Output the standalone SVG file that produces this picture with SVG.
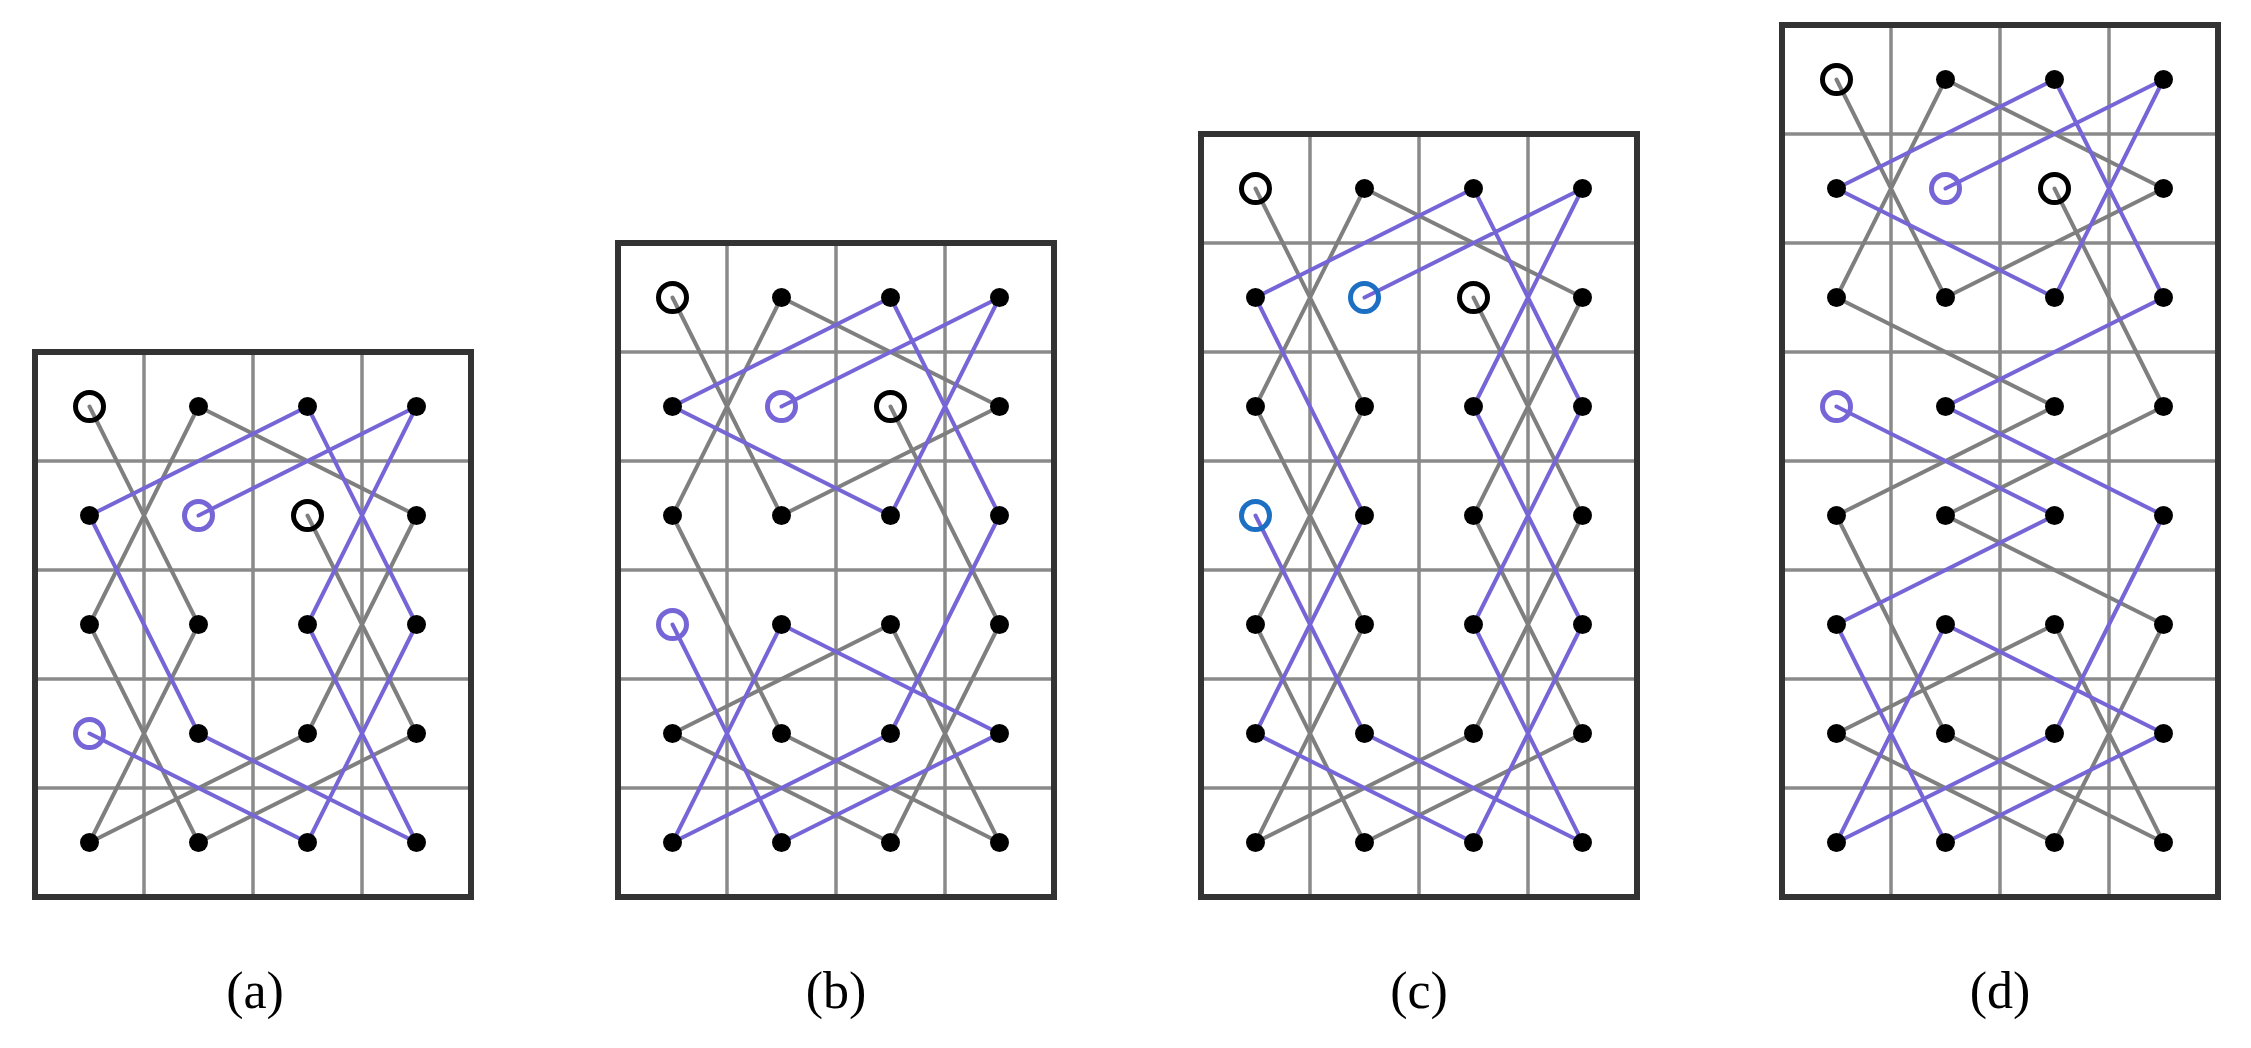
<svg xmlns="http://www.w3.org/2000/svg" width="2251" height="1048" viewBox="0 0 2251 1048">
<style>
.grid{fill:none;stroke:#8a8a8a;stroke-width:3.5}
.frame{fill:none;stroke:#333;stroke-width:6}
.g{fill:none;stroke:#7f7f7f;stroke-width:4;stroke-linecap:round}
.p{fill:none;stroke:#7565d6;stroke-width:4;stroke-linecap:round}
.d{fill:#000}
.mk{fill:none;stroke:#000;stroke-width:5}
.mp{fill:none;stroke:#7565d6;stroke-width:5}
.mb{fill:none;stroke:#1c6fc2;stroke-width:5}
.lbl{font-family:"Liberation Serif",serif;font-size:52px;text-anchor:middle;fill:#000}
</style>
<rect width="2251" height="1048" fill="#fff"/>
<g id="panel-a" transform="translate(35,352)">
<path class="grid" d="M109 0V545M218 0V545M327 0V545M0 109H436M0 218H436M0 327H436M0 436H436"/>
<rect class="frame" x="0" y="0" width="436" height="545"/>
<g class="connectors">
<path class="g" d="M54.5 54.5L163.5 272.5M163.5 54.5L54.5 272.5M163.5 54.5L381.5 163.5M54.5 272.5L163.5 490.5M163.5 272.5L54.5 490.5M54.5 490.5L272.5 381.5M163.5 490.5L381.5 381.5M272.5 163.5L381.5 381.5M381.5 163.5L272.5 381.5"/>
<path class="p" d="M272.5 54.5L54.5 163.5M381.5 54.5L163.5 163.5M272.5 54.5L381.5 272.5M381.5 54.5L272.5 272.5M54.5 163.5L163.5 381.5M272.5 272.5L381.5 490.5M381.5 272.5L272.5 490.5M163.5 381.5L381.5 490.5M54.5 381.5L272.5 490.5"/>
</g>
<g class="d">
<circle cx="163.5" cy="54.5" r="9.5"/><circle cx="272.5" cy="54.5" r="9.5"/><circle cx="381.5" cy="54.5" r="9.5"/>
<circle cx="54.5" cy="163.5" r="9.5"/><circle cx="381.5" cy="163.5" r="9.5"/>
<circle cx="54.5" cy="272.5" r="9.5"/><circle cx="163.5" cy="272.5" r="9.5"/><circle cx="272.5" cy="272.5" r="9.5"/><circle cx="381.5" cy="272.5" r="9.5"/>
<circle cx="163.5" cy="381.5" r="9.5"/><circle cx="272.5" cy="381.5" r="9.5"/><circle cx="381.5" cy="381.5" r="9.5"/>
<circle cx="54.5" cy="490.5" r="9.5"/><circle cx="163.5" cy="490.5" r="9.5"/><circle cx="272.5" cy="490.5" r="9.5"/><circle cx="381.5" cy="490.5" r="9.5"/>
</g>
<circle class="mk" cx="54.5" cy="54.5" r="14"/><circle class="mk" cx="272.5" cy="163.5" r="14"/>
<circle class="mp" cx="163.5" cy="163.5" r="14"/><circle class="mp" cx="54.5" cy="381.5" r="14"/>
</g>
<g id="panel-b" transform="translate(618,243)">
<path class="grid" d="M109 0V654M218 0V654M327 0V654M0 109H436M0 218H436M0 327H436M0 436H436M0 545H436"/>
<rect class="frame" x="0" y="0" width="436" height="654"/>
<g class="connectors">
<path class="g" d="M54.5 54.5L163.5 272.5M163.5 54.5L54.5 272.5M163.5 54.5L381.5 163.5M163.5 272.5L381.5 163.5M54.5 272.5L163.5 490.5M272.5 163.5L381.5 381.5M54.5 490.5L272.5 381.5M54.5 490.5L272.5 599.5M163.5 490.5L381.5 599.5M272.5 381.5L381.5 599.5M381.5 381.5L272.5 599.5"/>
<path class="p" d="M272.5 54.5L54.5 163.5M381.5 54.5L163.5 163.5M54.5 163.5L272.5 272.5M381.5 54.5L272.5 272.5M272.5 54.5L381.5 272.5M381.5 272.5L272.5 490.5M163.5 381.5L381.5 490.5M163.5 381.5L54.5 599.5M54.5 381.5L163.5 599.5M54.5 599.5L272.5 490.5M163.5 599.5L381.5 490.5"/>
</g>
<g class="d">
<circle cx="163.5" cy="54.5" r="9.5"/><circle cx="272.5" cy="54.5" r="9.5"/><circle cx="381.5" cy="54.5" r="9.5"/>
<circle cx="54.5" cy="163.5" r="9.5"/><circle cx="381.5" cy="163.5" r="9.5"/>
<circle cx="54.5" cy="272.5" r="9.5"/><circle cx="163.5" cy="272.5" r="9.5"/><circle cx="272.5" cy="272.5" r="9.5"/><circle cx="381.5" cy="272.5" r="9.5"/>
<circle cx="163.5" cy="381.5" r="9.5"/><circle cx="272.5" cy="381.5" r="9.5"/><circle cx="381.5" cy="381.5" r="9.5"/>
<circle cx="54.5" cy="490.5" r="9.5"/><circle cx="163.5" cy="490.5" r="9.5"/><circle cx="272.5" cy="490.5" r="9.5"/><circle cx="381.5" cy="490.5" r="9.5"/>
<circle cx="54.5" cy="599.5" r="9.5"/><circle cx="163.5" cy="599.5" r="9.5"/><circle cx="272.5" cy="599.5" r="9.5"/><circle cx="381.5" cy="599.5" r="9.5"/>
</g>
<circle class="mk" cx="54.5" cy="54.5" r="14"/><circle class="mk" cx="272.5" cy="163.5" r="14"/>
<circle class="mp" cx="163.5" cy="163.5" r="14"/><circle class="mp" cx="54.5" cy="381.5" r="14"/>
</g>
<g id="panel-c" transform="translate(1201,134)">
<path class="grid" d="M109 0V763M218 0V763M327 0V763M0 109H436M0 218H436M0 327H436M0 436H436M0 545H436M0 654H436"/>
<rect class="frame" x="0" y="0" width="436" height="763"/>
<g class="connectors">
<path class="g" d="M54.5 54.5L163.5 272.5M163.5 54.5L54.5 272.5M163.5 54.5L381.5 163.5M54.5 272.5L163.5 490.5M163.5 272.5L54.5 490.5M54.5 490.5L163.5 708.5M163.5 490.5L54.5 708.5M54.5 708.5L272.5 599.5M163.5 708.5L381.5 599.5M272.5 163.5L381.5 381.5M381.5 163.5L272.5 381.5M272.5 381.5L381.5 599.5M381.5 381.5L272.5 599.5"/>
<path class="p" d="M272.5 54.5L54.5 163.5M381.5 54.5L163.5 163.5M272.5 54.5L381.5 272.5M381.5 54.5L272.5 272.5M54.5 163.5L163.5 381.5M163.5 381.5L54.5 599.5M54.5 381.5L163.5 599.5M54.5 599.5L272.5 708.5M163.5 599.5L381.5 708.5M272.5 272.5L381.5 490.5M381.5 272.5L272.5 490.5M272.5 490.5L381.5 708.5M381.5 490.5L272.5 708.5"/>
</g>
<g class="d">
<circle cx="163.5" cy="54.5" r="9.5"/><circle cx="272.5" cy="54.5" r="9.5"/><circle cx="381.5" cy="54.5" r="9.5"/>
<circle cx="54.5" cy="163.5" r="9.5"/><circle cx="381.5" cy="163.5" r="9.5"/>
<circle cx="54.5" cy="272.5" r="9.5"/><circle cx="163.5" cy="272.5" r="9.5"/><circle cx="272.5" cy="272.5" r="9.5"/><circle cx="381.5" cy="272.5" r="9.5"/>
<circle cx="163.5" cy="381.5" r="9.5"/><circle cx="272.5" cy="381.5" r="9.5"/><circle cx="381.5" cy="381.5" r="9.5"/>
<circle cx="54.5" cy="490.5" r="9.5"/><circle cx="163.5" cy="490.5" r="9.5"/><circle cx="272.5" cy="490.5" r="9.5"/><circle cx="381.5" cy="490.5" r="9.5"/>
<circle cx="54.5" cy="599.5" r="9.5"/><circle cx="163.5" cy="599.5" r="9.5"/><circle cx="272.5" cy="599.5" r="9.5"/><circle cx="381.5" cy="599.5" r="9.5"/>
<circle cx="54.5" cy="708.5" r="9.5"/><circle cx="163.5" cy="708.5" r="9.5"/><circle cx="272.5" cy="708.5" r="9.5"/><circle cx="381.5" cy="708.5" r="9.5"/>
</g>
<circle class="mk" cx="54.5" cy="54.5" r="14"/><circle class="mk" cx="272.5" cy="163.5" r="14"/>
<circle class="mb" cx="163.5" cy="163.5" r="14"/><circle class="mb" cx="54.5" cy="381.5" r="14"/>
</g>
<g id="panel-d" transform="translate(1782,25)">
<path class="grid" d="M109 0V872M218 0V872M327 0V872M0 109H436M0 218H436M0 327H436M0 436H436M0 545H436M0 654H436M0 763H436"/>
<rect class="frame" x="0" y="0" width="436" height="872"/>
<g class="connectors">
<path class="g" d="M54.5 54.5L163.5 272.5M163.5 54.5L54.5 272.5M163.5 54.5L381.5 163.5M163.5 272.5L381.5 163.5M54.5 272.5L272.5 381.5M272.5 163.5L381.5 381.5M272.5 381.5L54.5 490.5M381.5 381.5L163.5 490.5M54.5 490.5L163.5 708.5M163.5 490.5L381.5 599.5M54.5 708.5L272.5 599.5M54.5 708.5L272.5 817.5M163.5 708.5L381.5 817.5M272.5 599.5L381.5 817.5M381.5 599.5L272.5 817.5"/>
<path class="p" d="M272.5 54.5L54.5 163.5M381.5 54.5L163.5 163.5M54.5 163.5L272.5 272.5M381.5 54.5L272.5 272.5M272.5 54.5L381.5 272.5M381.5 272.5L163.5 381.5M163.5 381.5L381.5 490.5M54.5 381.5L272.5 490.5M272.5 490.5L54.5 599.5M381.5 490.5L272.5 708.5M54.5 599.5L163.5 817.5M163.5 599.5L381.5 708.5M163.5 599.5L54.5 817.5M54.5 817.5L272.5 708.5M163.5 817.5L381.5 708.5"/>
</g>
<g class="d">
<circle cx="163.5" cy="54.5" r="9.5"/><circle cx="272.5" cy="54.5" r="9.5"/><circle cx="381.5" cy="54.5" r="9.5"/>
<circle cx="54.5" cy="163.5" r="9.5"/><circle cx="381.5" cy="163.5" r="9.5"/>
<circle cx="54.5" cy="272.5" r="9.5"/><circle cx="163.5" cy="272.5" r="9.5"/><circle cx="272.5" cy="272.5" r="9.5"/><circle cx="381.5" cy="272.5" r="9.5"/>
<circle cx="163.5" cy="381.5" r="9.5"/><circle cx="272.5" cy="381.5" r="9.5"/><circle cx="381.5" cy="381.5" r="9.5"/>
<circle cx="54.5" cy="490.5" r="9.5"/><circle cx="163.5" cy="490.5" r="9.5"/><circle cx="272.5" cy="490.5" r="9.5"/><circle cx="381.5" cy="490.5" r="9.5"/>
<circle cx="54.5" cy="599.5" r="9.5"/><circle cx="163.5" cy="599.5" r="9.5"/><circle cx="272.5" cy="599.5" r="9.5"/><circle cx="381.5" cy="599.5" r="9.5"/>
<circle cx="54.5" cy="708.5" r="9.5"/><circle cx="163.5" cy="708.5" r="9.5"/><circle cx="272.5" cy="708.5" r="9.5"/><circle cx="381.5" cy="708.5" r="9.5"/>
<circle cx="54.5" cy="817.5" r="9.5"/><circle cx="163.5" cy="817.5" r="9.5"/><circle cx="272.5" cy="817.5" r="9.5"/><circle cx="381.5" cy="817.5" r="9.5"/>
</g>
<circle class="mk" cx="54.5" cy="54.5" r="14"/><circle class="mk" cx="272.5" cy="163.5" r="14"/>
<circle class="mp" cx="163.5" cy="163.5" r="14"/><circle class="mp" cx="54.5" cy="381.5" r="14"/>
</g>
<g id="labels">
<text class="lbl" x="255" y="1008">(a)</text>
<text class="lbl" x="836" y="1008">(b)</text>
<text class="lbl" x="1419" y="1008">(c)</text>
<text class="lbl" x="2000" y="1008">(d)</text>
</g>
</svg>
